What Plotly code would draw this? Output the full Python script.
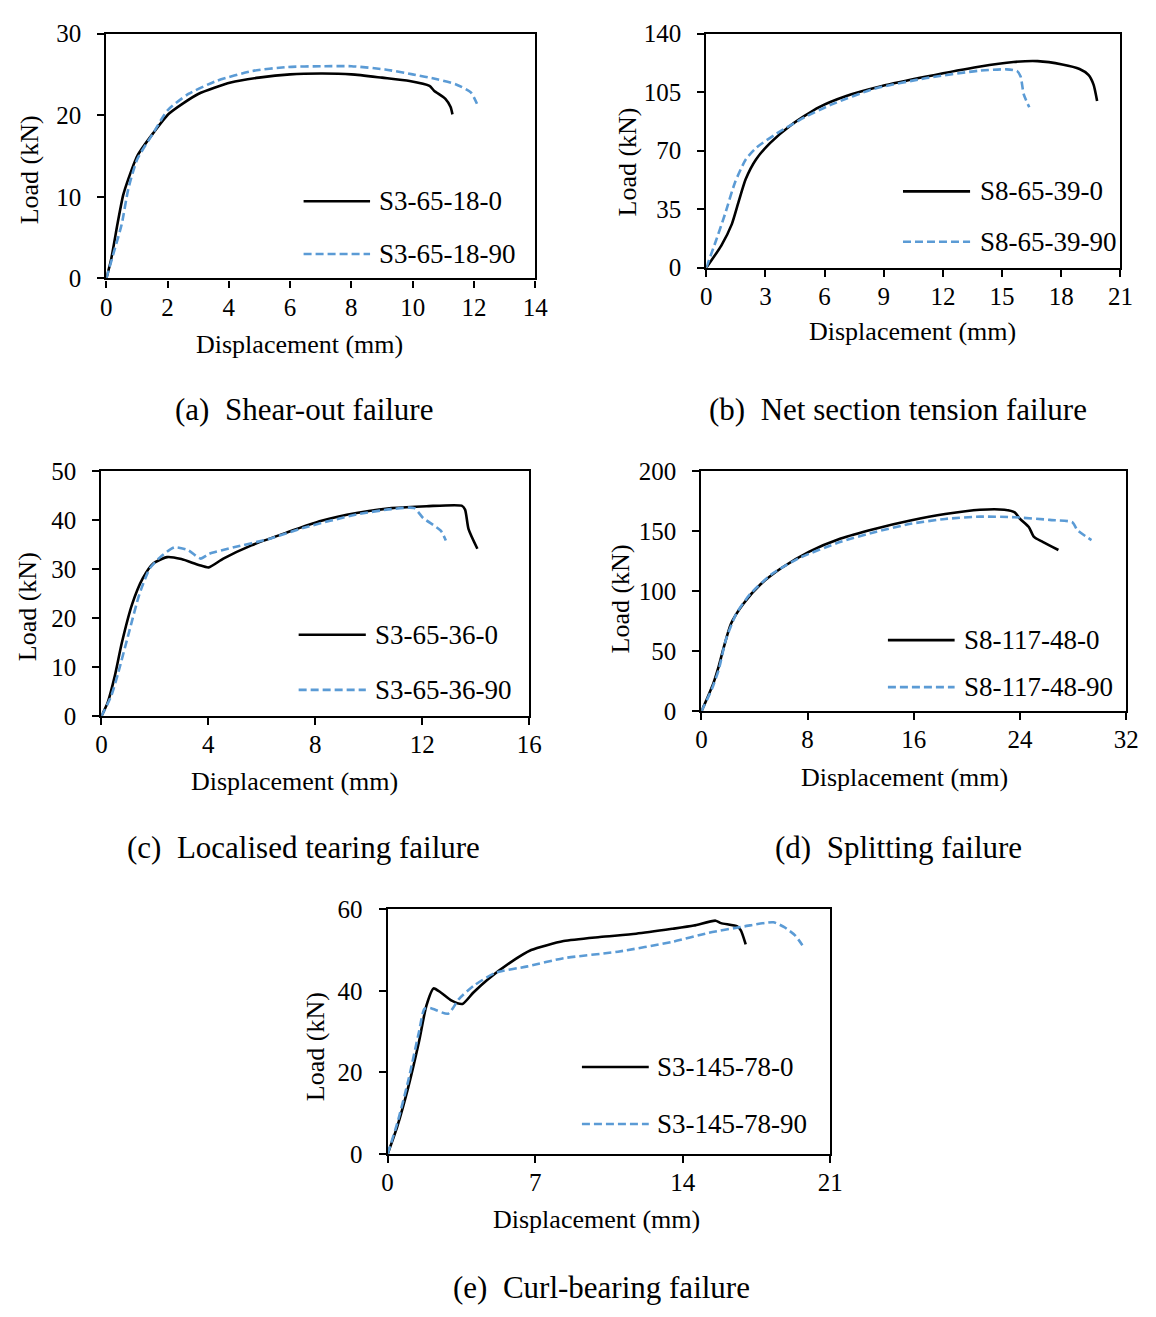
import plotly.graph_objects as go

# ---------------- data ----------------
a_x0 = [0, 0.15, 0.38, 0.55, 0.72, 1.01, 1.53, 2.05, 3.0, 4.06, 4.98, 6.0, 7.05, 8.0, 9.0, 9.9, 10.55, 10.7, 11.07, 11.24, 11.3]
a_y0 = [0, 2.2, 7.0, 10.2, 12.2, 15.0, 17.8, 20.2, 22.6, 24.0, 24.6, 25.0, 25.1, 25.0, 24.6, 24.2, 23.6, 23.0, 22.0, 21.0, 20.1]
a_x90 = [0, 0.26, 0.5, 0.72, 1.01, 1.53, 2.0, 2.68, 3.6, 4.75, 5.9, 7.05, 8.0, 9.1, 10.0, 10.8, 11.4, 11.9, 12.1]
a_y90 = [0, 3.4, 6.6, 11.0, 14.6, 17.8, 20.6, 22.6, 24.2, 25.4, 25.9, 26.0, 26.0, 25.6, 25.0, 24.4, 23.8, 22.8, 21.4]

b_x0 = [0, 0.76, 1.29, 1.64, 2.0, 2.52, 3.23, 4.29, 5.7, 7.1, 8.87, 11.17, 13.82, 15.58, 16.8, 18.05, 18.93, 19.38, 19.64, 19.82]
b_y0 = [0, 13.2, 25.9, 39.5, 53.0, 64.7, 74.5, 85.2, 95.9, 102.7, 108.5, 114.3, 120.2, 123.0, 123.5, 121.5, 118.8, 115.3, 109.5, 99.7]
b_x90 = [0, 0.49, 0.94, 1.46, 2.0, 2.52, 3.58, 5.0, 6.4, 8.52, 11.17, 13.82, 15.23, 15.76, 15.94, 16.1, 16.38]
b_y90 = [0, 16.1, 31.7, 51.1, 64.7, 71.6, 80.3, 90.0, 97.8, 107.0, 113.4, 117.8, 118.6, 117.6, 114.3, 103.6, 95.9]

c_x0 = [0, 0.24, 0.5, 0.76, 1.15, 1.55, 1.94, 2.46, 2.99, 3.64, 4.01, 4.56, 5.61, 6.92, 8.23, 9.54, 10.85, 12.16, 13.47, 13.6, 13.73, 14.06]
c_y0 = [0, 2.9, 8.2, 14.9, 22.9, 28.2, 31.2, 32.5, 32.1, 30.9, 30.4, 32.2, 34.9, 37.5, 39.9, 41.5, 42.5, 42.9, 43.0, 42.2, 38.2, 34.2]
c_x90 = [0, 0.37, 0.63, 1.02, 1.42, 1.81, 2.2, 2.73, 3.25, 3.71, 4.04, 4.95, 6.26, 7.57, 9.54, 10.85, 11.7, 12.03, 12.69, 12.88]
c_y90 = [0, 4.2, 8.9, 16.9, 24.9, 30.2, 32.5, 34.5, 33.9, 32.2, 33.2, 34.5, 36.2, 38.5, 41.2, 42.3, 42.5, 40.5, 37.9, 35.9]

d_x0 = [0, 0.52, 0.92, 1.31, 1.7, 2.23, 3.15, 4.46, 6.03, 8.13, 10.49, 13.11, 15.74, 18.36, 20.98, 22.82, 23.6, 24.0, 24.66, 25.05, 25.7, 26.89]
d_y0 = [0, 13.1, 24.0, 37.7, 54.0, 73.1, 89.5, 105.9, 119.5, 133.2, 144.1, 152.3, 159.1, 164.5, 168.1, 168.1, 165.9, 160.4, 153.6, 145.4, 141.3, 134.5]
d_x90 = [0, 0.79, 1.31, 1.84, 2.62, 3.67, 5.25, 7.34, 10.49, 13.11, 15.74, 18.36, 20.98, 23.6, 26.23, 27.93, 28.33, 29.38]
d_y90 = [0, 18.6, 34.9, 59.5, 81.3, 97.7, 114.0, 127.7, 141.3, 149.5, 156.3, 160.4, 162.3, 161.8, 159.6, 157.7, 150.9, 142.7]

e_x0 = [0, 0.46, 0.98, 1.49, 1.84, 2.18, 2.52, 3.04, 3.55, 4.07, 4.75, 5.78, 6.81, 8.35, 10.07, 11.79, 13.5, 14.53, 15.56, 15.82, 16.59, 16.76, 16.99]
e_y0 = [0, 6.8, 16.4, 27.6, 36.4, 40.6, 39.6, 37.6, 36.8, 39.6, 42.8, 46.8, 50.0, 52.2, 53.2, 54.0, 55.2, 56.0, 57.2, 56.6, 55.8, 54.8, 51.4]
e_x90 = [0, 0.46, 0.98, 1.49, 1.75, 2.01, 2.87, 3.38, 4.07, 5.1, 6.64, 8.35, 10.93, 13.5, 15.22, 16.93, 18.3, 18.82, 19.33, 19.68]
e_y90 = [0, 7.6, 18.0, 30.0, 35.6, 35.8, 34.4, 38.0, 41.2, 44.4, 46.0, 48.0, 49.6, 52.0, 54.2, 55.8, 56.8, 55.6, 53.6, 51.2]

names = [("S3-65-18-0", "S3-65-18-90"), ("S8-65-39-0", "S8-65-39-90"),
         ("S3-65-36-0", "S3-65-36-90"), ("S8-117-48-0", "S8-117-48-90"),
         ("S3-145-78-0", "S3-145-78-90")]
captions = ["(a)\u00a0\u00a0Shear-out failure", "(b)\u00a0\u00a0Net section tension failure",
            "(c)\u00a0\u00a0Localised tearing failure", "(d)\u00a0\u00a0Splitting failure",
            "(e)\u00a0\u00a0Curl-bearing failure"]
x_ranges = [(0, 14, 2), (0, 21, 3), (0, 16, 4), (0, 32, 8), (0, 21, 7)]
y_ranges = [(0, 30, 10), (0, 140, 35), (0, 50, 10), (0, 200, 50), (0, 60, 20)]

series = [(a_x0, a_y0, a_x90, a_y90), (b_x0, b_y0, b_x90, b_y90),
          (c_x0, c_y0, c_x90, c_y90), (d_x0, d_y0, d_x90, d_y90),
          (e_x0, e_y0, e_x90, e_y90)]

# ---------------- layout geometry (pixels) ----------------
W, H = 1156, 1317
boxes = [(102, 538, 21, 271), (712, 1133, 21, 260), (97, 532, 468, 718),
         (707, 1139, 468, 713), (388, 838, 915, 1165)]
# legend: line start, line end, text start (fraction of x domain), y of entries (fraction)
legpos = [(0.46, 0.615, 0.632, 0.315, 0.10), (0.475, 0.637, 0.655, 0.326, 0.111),
          (0.461, 0.618, 0.635, 0.333, 0.108), (0.439, 0.596, 0.613, 0.297, 0.101),
          (0.439, 0.59, 0.605, 0.356, 0.123)]
caption_pos = [(303, 405), (907, 405), (302, 852), (907, 852), (605, 1301)]
xtitle_pos = [(298, 338), (922, 325), (293, 785), (914, 780), (600, 1232)]
ytitle_pos = [(24, 160), (632, 152), (22, 606), (625, 598), (315, 1055)]

FONT = "Liberation Serif, Times New Roman, serif"
BLUE = "#5B9BD5"
DASH = "8px,4px"

fig = go.Figure()
shapes = []
annotations = []

for i in range(5):
    ax = "" if i == 0 else str(i + 1)
    xa, ya = "x" + ax, "y" + ax
    x0, y0, x90, y90 = series[i]
    fig.add_trace(go.Scatter(x=x0, y=y0, mode="lines", name=names[i][0],
                             line=dict(color="black", width=2.6, shape="spline", smoothing=0.6),
                             xaxis=xa, yaxis=ya, showlegend=False))
    fig.add_trace(go.Scatter(x=x90, y=y90, mode="lines", name=names[i][1],
                             line=dict(color=BLUE, width=2.6, dash=DASH, shape="spline", smoothing=0.6),
                             xaxis=xa, yaxis=ya, showlegend=False))
    l, r, t, b = boxes[i]
    xr, yr = x_ranges[i], y_ranges[i]
    axis_common = dict(showline=True, linecolor="black", linewidth=2.2, mirror=True,
                       ticks="outside", ticklen=7, tickwidth=2, tickcolor="black",
                       showgrid=False, zeroline=False,
                       tickfont=dict(family=FONT, size=25, color="black"))
    fig.layout["xaxis" + ax] = dict(domain=[l / W, r / W], range=[xr[0], xr[1]],
                                    tick0=0, dtick=xr[2], anchor=ya,
                                    ticklabelstandoff=-2, **axis_common)
    fig.layout["yaxis" + ax] = dict(domain=[1 - b / H, 1 - t / H], range=[yr[0], yr[1]],
                                    tick0=0, dtick=yr[2], anchor=xa,
                                    ticklabelstandoff=11, **axis_common)
    # axis titles
    tx, ty = xtitle_pos[i]
    annotations.append(dict(text="Displacement (mm)", xref="paper", yref="paper",
                            x=tx / W, y=1 - ty / H, xanchor="center", yanchor="middle",
                            showarrow=False, font=dict(family=FONT, size=26, color="black")))
    tx, ty = ytitle_pos[i]
    annotations.append(dict(text="Load (kN)", xref="paper", yref="paper", textangle=-90,
                            x=tx / W, y=1 - ty / H, xanchor="center", yanchor="middle",
                            showarrow=False, font=dict(family=FONT, size=26, color="black")))
    # legend entries
    ls, le, ts, ya0, ya90 = legpos[i]
    for yy, col, dash, nm in [(ya0, "black", "solid", names[i][0]), (ya90, BLUE, DASH, names[i][1])]:
        shapes.append(dict(type="line", xref=xa + " domain", yref=ya + " domain",
                           x0=ls, x1=le, y0=yy, y1=yy,
                           line=dict(color=col, width=2.6, dash=dash)))
        annotations.append(dict(text=nm, xref=xa + " domain", yref=ya + " domain",
                                x=ts, y=yy, xanchor="left", yanchor="middle", showarrow=False,
                                font=dict(family=FONT, size=27, color="black")))
    cx, cy = caption_pos[i]
    annotations.append(dict(text=captions[i], xref="paper", yref="paper", x=cx / W, y=1 - cy / H,
                            xanchor="center", yanchor="middle", showarrow=False,
                            font=dict(family=FONT, size=31, color="black")))

fig.update_layout(width=W, height=H, margin=dict(l=0, r=0, t=0, b=0),
                  paper_bgcolor="white", plot_bgcolor="white",
                  shapes=shapes, annotations=annotations, showlegend=False)

fig.write_html("out.html", config={"displayModeBar": False},
               post_script="document.body.style.margin='0';document.body.style.padding='0';")
